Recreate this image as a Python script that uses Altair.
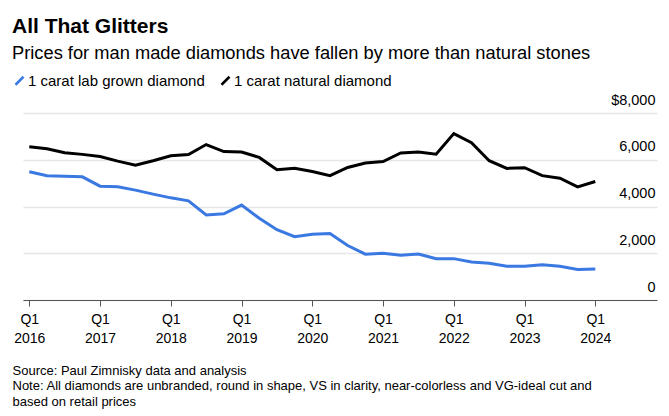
import altair as alt
import pandas as pd

quarters = [f"{y} Q{q}" for y in range(2016, 2025) for q in range(1, 5)][:33]
lab_grown = [5490, 5320, 5290, 5270, 4870, 4840, 4700, 4530, 4370, 4240, 3640, 3690,
             4060, 3500, 3010, 2710, 2810, 2840, 2330, 1960, 2000, 1910, 1970, 1770,
             1770, 1630, 1570, 1440, 1440, 1510, 1440, 1310, 1330]
natural = [6560, 6470, 6300, 6230, 6140, 5940, 5770, 5960, 6170, 6220, 6650, 6350,
           6330, 6100, 5570, 5640, 5500, 5320, 5670, 5860, 5920, 6290, 6330, 6240,
           7120, 6730, 5960, 5630, 5660, 5320, 5210, 4840, 5070]
series_names = ["1 carat lab grown diamond", "1 carat natural diamond"]
series_colors = ["#3a78e2", "#000000"]
x_ticks = list(range(2016, 2025))
y_ticks = [0, 2000, 4000, 6000, 8000]

rows = []
for name, vals in zip(series_names, [lab_grown, natural]):
    for qs, v in zip(quarters, vals):
        y, q = qs.split(" Q")
        rows.append({"period": qs, "t": int(y) + (int(q) - 1) / 4, "series": name, "price": v})
df = pd.DataFrame(rows)

FONT = "Liberation Sans"

chart = alt.Chart(df).mark_line(strokeWidth=3, strokeJoin="miter").encode(
    x=alt.X("t:Q",
            scale=alt.Scale(domain=[2015.911, 2024.872], nice=False, zero=False),
            axis=alt.Axis(values=x_ticks,
                          labelExpr="['Q1', '' + datum.value]",
                          labelFontSize=14, labelLineHeight=19, labelPadding=6,
                          labelColor="#000", labelFont=FONT,
                          tickSize=6, tickColor="#555", tickWidth=1,
                          domainColor="#555", domainWidth=1.2,
                          grid=False,
                          title=["Source: Paul Zimnisky data and analysis",
                                 "Note: All diamonds are unbranded, round in shape, VS in clarity, near-colorless and VG-ideal cut and",
                                 "based on retail prices"],
                          titleFont=FONT, titleFontSize=13, titleFontWeight="normal",
                          titleColor="#000", titleAnchor="start", titleAlign="left",
                          titleBaseline="top", titleX=-11, titleY=64, titleLineHeight=15.5,
                          titleLimit=700)),
    y=alt.Y("price:Q",
            scale=alt.Scale(domain=[0, 8000], nice=False),
            axis=alt.Axis(orient="right", values=y_ticks,
                          labelExpr="datum.value == 8000 ? '$8,000' : format(datum.value, ',')",
                          labelAlign="right", labelBaseline="alphabetic", labelOffset=-9,
                          labelPadding=-2, ticks=False, tickSize=0, domain=False,
                          labelFontSize=14.5, labelColor="#000", labelFont=FONT,
                          grid=True, gridColor="#e6e6e6", gridWidth=1.3, title=None)),
    color=alt.Color("series:N",
                    scale=alt.Scale(domain=series_names, range=series_colors),
                    legend=alt.Legend(orient="none", legendX=-11, legendY=-40,
                                      direction="horizontal", title=None,
                                      symbolType="M-1,1L1,-1", symbolSize=64,
                                      symbolStrokeWidth=2.5, labelFontSize=15,
                                      labelFont=FONT, labelColor="#000", labelLimit=400,
                                      labelOffset=1, columnPadding=11)),
).properties(
    width=634, height=187,
    padding={"left": 15, "top": 105, "right": 4, "bottom": 110},
    autosize=alt.AutoSizeParams(type="none"),
    title=alt.TitleParams(
        text="All That Glitters",
        subtitle="Prices for man made diamonds have fallen by more than natural stones",
        anchor="start", font=FONT, fontSize=21, fontWeight="bold", color="#000",
        subtitleFont=FONT, subtitleFontSize=18.3, subtitleColor="#000",
        subtitlePadding=8, offset=11),
).configure_view(stroke=None)

chart.save("out.html", embed_options={"renderer": "svg", "actions": False})
